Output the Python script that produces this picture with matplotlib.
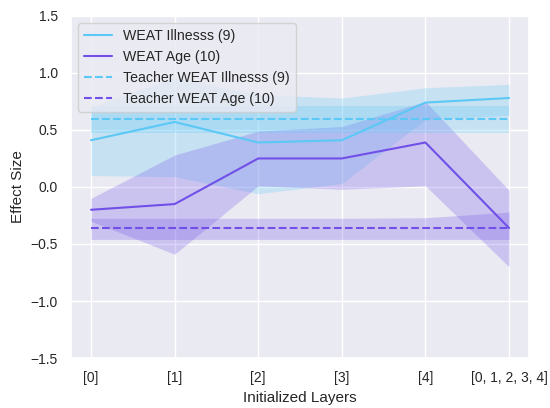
import matplotlib
matplotlib.use("Agg")
import matplotlib.pyplot as plt
import numpy as np
import seaborn as sns

sns.set_theme(style="darkgrid")
plt.rcParams["font.family"] = ["Liberation Sans", "DejaVu Sans"]

layers = ["[0]", "[1]", "[2]", "[3]", "[4]", "[0, 1, 2, 3, 4]"]

illness_mean = [0.41, 0.57, 0.39, 0.41, 0.74, 0.78]
illness_lo = [0.10, 0.09, -0.06, 0.03, 0.59, 0.63]
illness_hi = [0.70, 0.96, 0.81, 0.78, 0.87, 0.90]

age_mean = [-0.20, -0.15, 0.25, 0.25, 0.39, -0.36]
age_lo = [-0.30, -0.59, 0.01, -0.02, 0.01, -0.70]
age_hi = [-0.10, 0.28, 0.49, 0.53, 0.75, -0.03]

teacher_illness = [0.60, 0.60, 0.60, 0.60, 0.60, 0.60]
teacher_illness_lo = [0.47, 0.47, 0.47, 0.47, 0.47, 0.47]
teacher_illness_hi = [0.71, 0.71, 0.71, 0.71, 0.71, 0.71]

teacher_age = [-0.36, -0.36, -0.36, -0.36, -0.36, -0.36]
teacher_age_lo = [-0.46, -0.46, -0.46, -0.46, -0.46, -0.46]
teacher_age_hi = [-0.275, -0.275, -0.275, -0.275, -0.27, -0.22]

c_ill = "#5BC8F5"
c_age = "#7050E8"

fig = plt.figure(figsize=(5.5, 4.08), dpi=100)
ax = fig.add_axes([0.129, 0.1225, 0.833, 0.8385])
x = np.arange(len(layers))

ax.plot(x, illness_mean, color=c_ill, lw=1.5, label="WEAT Illnesss (9)")
ax.fill_between(x, illness_lo, illness_hi, color=c_ill, alpha=0.25, lw=0)
ax.plot(x, age_mean, color=c_age, lw=1.5, label="WEAT Age (10)")
ax.fill_between(x, age_lo, age_hi, color=c_age, alpha=0.25, lw=0)
ax.plot(x, teacher_illness, color=c_ill, lw=1.5, ls="--", label="Teacher WEAT Illnesss (9)")
ax.fill_between(x, teacher_illness_lo, teacher_illness_hi, color=c_ill, alpha=0.25, lw=0)
ax.plot(x, teacher_age, color=c_age, lw=1.5, ls="--", label="Teacher WEAT Age (10)")
ax.fill_between(x, teacher_age_lo, teacher_age_hi, color=c_age, alpha=0.25, lw=0)

ax.set_xticks(x)
ax.set_xticklabels(layers, fontsize=10)
ax.tick_params(axis="y", labelsize=10)
ax.set_xlim(-0.24, 5.24)
ax.set_ylim(-1.5, 1.5)
ax.set_yticks([-1.5, -1.0, -0.5, 0.0, 0.5, 1.0, 1.5])
ax.set_xlabel("Initialized Layers", fontsize=11)
ax.set_ylabel("Effect Size", fontsize=11)
ax.legend(loc="upper left", fontsize=10.2)

fig.savefig("out.png")
